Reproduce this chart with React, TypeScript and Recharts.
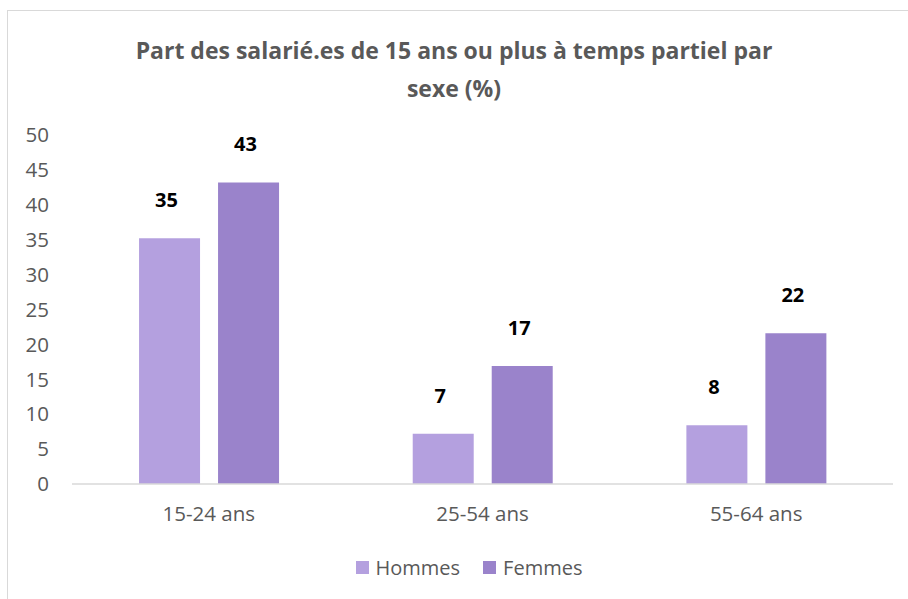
import React from 'react';
import { BarChart, Bar, XAxis, YAxis, LabelList } from 'recharts';

const categories = ['15-24 ans', '25-54 ans', '55-64 ans'];
const hommes = [35.2, 7.2, 8.4];
const femmes = [43.2, 16.9, 21.6];
const yTicks = [0, 5, 10, 15, 20, 25, 30, 35, 40, 45, 50];
const seriesNames = ['Hommes', 'Femmes'];
const colors = ['#b4a0df', '#9a83cb'];

const data = categories.map((c, i) => ({ name: c, Hommes: hommes[i], Femmes: femmes[i] }));

const FONT = '"Open Sans", Lato, sans-serif';

const ValueLabel = (props: any) => {
  const { x, y, width, value } = props;
  return (
    <text x={x + width / 2 - 3} y={y - 31} textAnchor="middle" fontFamily={FONT} fontWeight={700} fontSize={20} fill="#000">
      {Math.round(value)}
    </text>
  );
};

const LegendContent = () => (
  <div style={{ display: 'flex', justifyContent: 'center', gap: 23, fontFamily: FONT, fontSize: 20, color: '#595959' }}>
    {seriesNames.map((n, i) => (
      <div key={n} style={{ display: 'flex', alignItems: 'center' }}>
        <span style={{ display: 'inline-block', width: 13, height: 13, background: colors[i], marginRight: 7 }} />
        <span>{n}</span>
      </div>
    ))}
  </div>
);

export default function App() {
  return (
    <div style={{ position: 'absolute', left: 0, top: 0, width: 908, height: 599, background: '#fff', overflow: 'hidden' }}>
      <div style={{ position: 'absolute', left: 7, top: 10, width: 1000, height: 1000, border: '1px solid #d9d9d9' }} />
      <div style={{ position: 'absolute', left: 0, top: 31, width: 908, textAlign: 'center', fontFamily: FONT, fontWeight: 700, fontSize: 23, lineHeight: '38px', color: '#595959' }}>
        Part des salarié.es de 15 ans ou plus à temps partiel par<br />sexe (%)
      </div>
      <div style={{ position: 'absolute', left: 0, top: 0 }}>
        <BarChart width={908} height={599} data={data} margin={{ top: 135, right: 15, bottom: 0, left: 0 }} barGap={18} barCategoryGap="24.5%">
          <YAxis
            domain={[0, 50]}
            ticks={yTicks}
            interval={0}
            width={72}
            axisLine={false}
            tickLine={false}
            tickSize={0}
            tickMargin={23}
            tick={{ fontFamily: FONT, fontSize: 20.5, fill: '#595959' }}
          />
          <XAxis
            dataKey="name"
            height={115}
            axisLine={{ stroke: '#d9d9d9', strokeWidth: 1.5 }}
            tickLine={false}
            tickSize={0}
            tickMargin={22}
            tick={{ fontFamily: FONT, fontSize: 20.5, fill: '#595959', verticalAnchor: 'middle' } as any}
          />
          <Bar dataKey="Hommes" fill={colors[0]} isAnimationActive={false}>
            <LabelList dataKey="Hommes" content={ValueLabel} />
          </Bar>
          <Bar dataKey="Femmes" fill={colors[1]} isAnimationActive={false}>
            <LabelList dataKey="Femmes" content={ValueLabel} />
          </Bar>
        </BarChart>
      </div>
      <div style={{ position: 'absolute', left: 15, top: 554, width: 908 }}>
        <LegendContent />
      </div>
    </div>
  );
}
